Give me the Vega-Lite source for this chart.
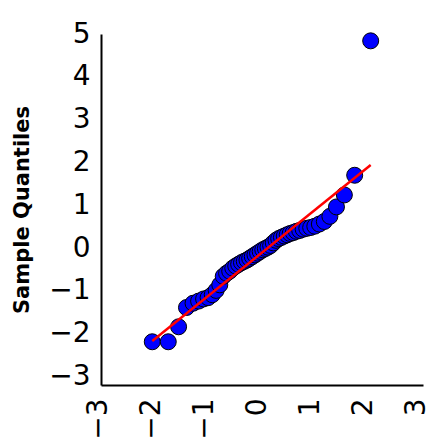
{
  "$schema": "https://vega.github.io/schema/vega-lite/v6.json",
  "autosize": {"type": "none"},
  "padding": {"left": 101, "top": 34, "right": 9, "bottom": 59},
  "width": 322,
  "height": 351,
  "background": "white",
  "config": {
    "view": {"stroke": null},
    "axis": {
      "domainColor": "black",
      "domainWidth": 2,
      "ticks": false,
      "grid": false,
      "labelFont": "DejaVu Sans",
      "labelFontSize": 28,
      "labelColor": "black",
      "titleColor": "black"
    }
  },
  "datasets": {
    "points": [
      {"q": -2.062, "s": -2.19}, {"q": -1.760, "s": -2.19}, {"q": -1.565, "s": -1.84},
      {"q": -1.416, "s": -1.39}, {"q": -1.292, "s": -1.29}, {"q": -1.187, "s": -1.24},
      {"q": -1.093, "s": -1.19}, {"q": -1.007, "s": -1.16}, {"q": -0.929, "s": -1.09},
      {"q": -0.856, "s": -0.99}, {"q": -0.787, "s": -0.86}, {"q": -0.722, "s": -0.66},
      {"q": -0.659, "s": -0.59}, {"q": -0.600, "s": -0.54}, {"q": -0.542, "s": -0.47},
      {"q": -0.486, "s": -0.42}, {"q": -0.431, "s": -0.38}, {"q": -0.377, "s": -0.34},
      {"q": -0.325, "s": -0.31}, {"q": -0.274, "s": -0.28}, {"q": -0.223, "s": -0.24},
      {"q": -0.173, "s": -0.20}, {"q": -0.123, "s": -0.16}, {"q": -0.074, "s": -0.12},
      {"q": -0.025, "s": -0.08}, {"q": 0.025, "s": -0.04}, {"q": 0.074, "s": -0.01},
      {"q": 0.123, "s": 0.02}, {"q": 0.173, "s": 0.06}, {"q": 0.223, "s": 0.12},
      {"q": 0.274, "s": 0.18}, {"q": 0.325, "s": 0.22}, {"q": 0.377, "s": 0.25},
      {"q": 0.431, "s": 0.28}, {"q": 0.486, "s": 0.31}, {"q": 0.542, "s": 0.34},
      {"q": 0.600, "s": 0.36}, {"q": 0.659, "s": 0.39}, {"q": 0.722, "s": 0.41},
      {"q": 0.787, "s": 0.44}, {"q": 0.856, "s": 0.46}, {"q": 0.929, "s": 0.48},
      {"q": 1.007, "s": 0.51}, {"q": 1.093, "s": 0.56}, {"q": 1.187, "s": 0.62},
      {"q": 1.292, "s": 0.74}, {"q": 1.416, "s": 0.96}, {"q": 1.565, "s": 1.24},
      {"q": 1.760, "s": 1.70}, {"q": 2.062, "s": 4.84}
    ],
    "line": [
      {"q": -2.062, "s": -2.17},
      {"q": 2.062, "s": 1.94}
    ]
  },
  "encoding": {
    "x": {
      "field": "q", "type": "quantitative",
      "scale": {"domain": [-3.03, 3.05], "nice": false, "zero": false},
      "axis": {"title": null, "values": [-3, -2, -1, 0, 1, 2, 3], "format": "d", "labelAngle": -90, "labelPadding": 13, "labelOffset": -4}
    },
    "y": {
      "field": "s", "type": "quantitative",
      "scale": {"domain": [-3.2, 5.0], "nice": false, "zero": false},
      "axis": {
        "title": "Sample Quantiles", "values": [-3, -2, -1, 0, 1, 2, 3, 4, 5], "format": "d",
        "labelPadding": 11, "titleFont": "DejaVu Sans", "titleFontWeight": "bold",
        "titleFontSize": 21, "titlePadding": 16
      }
    }
  },
  "layer": [
    {
      "data": {"name": "points"},
      "mark": {"type": "point", "shape": "circle", "filled": true, "fill": "#0000ff", "stroke": "black", "strokeWidth": 1, "size": 256, "opacity": 1}
    },
    {
      "data": {"name": "line"},
      "mark": {"type": "line", "color": "#ff0000", "strokeWidth": 2.5}
    }
  ]
}
